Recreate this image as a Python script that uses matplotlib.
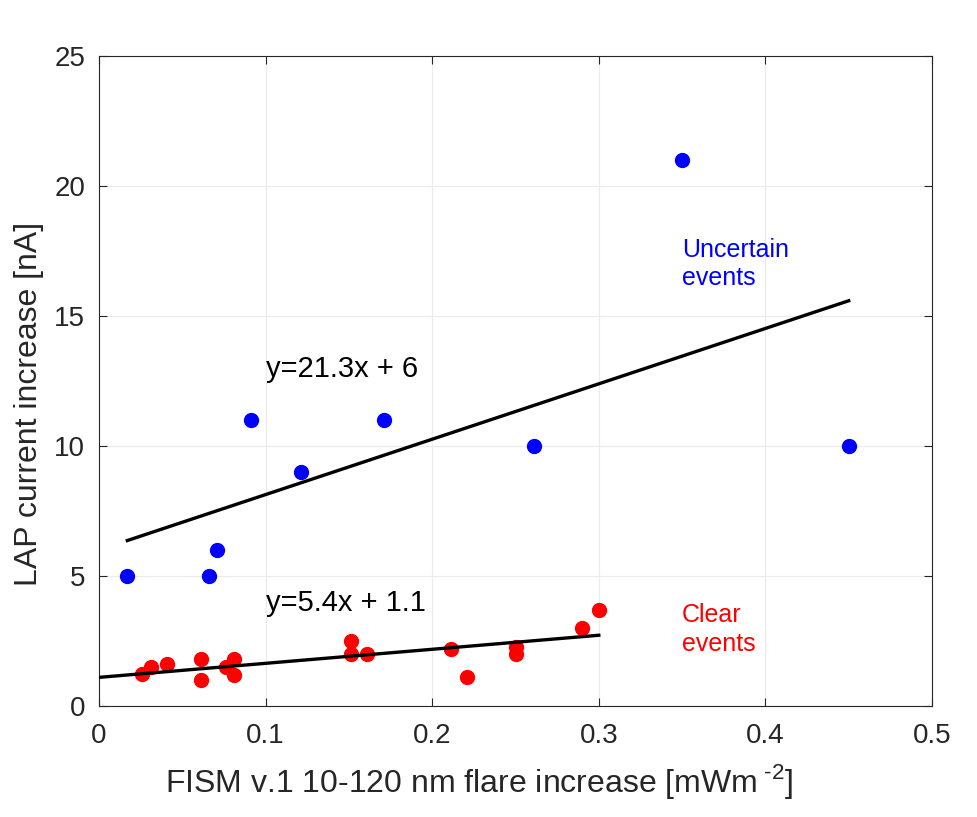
import matplotlib.pyplot as plt
import numpy as np

plt.rcParams['font.family'] = ['Liberation Sans', 'DejaVu Sans']
plt.rcParams['mathtext.fontset'] = 'custom'
plt.rcParams['mathtext.rm'] = 'Liberation Sans'

# uncertain events
x_unc = [0.017, 0.066, 0.071, 0.091, 0.121, 0.171, 0.261, 0.35, 0.45]
y_unc = [5, 5, 6, 11, 9, 11, 10, 21, 10]

# clear events
x_clr = [0.026, 0.031, 0.041, 0.061, 0.061, 0.076, 0.081, 0.081, 0.151,
         0.151, 0.161, 0.211, 0.221, 0.25, 0.25, 0.29, 0.30]
y_clr = [1.23, 1.5, 1.6, 1.8, 1.0, 1.5, 1.8, 1.2, 2.5,
         2.0, 2.0, 2.2, 1.1, 2.25, 2.0, 3.0, 3.7]

fit_unc = (21.3, 6.0)
fit_clr = (5.4, 1.1)

fig = plt.figure(figsize=(9.78, 8.17), dpi=100)
ax = fig.add_axes([0.1012, 0.1359, 0.8518, 0.7956])

ax.plot(x_unc, y_unc, 'o', color='#0000ff', markersize=10, zorder=3)
ax.plot(x_clr, y_clr, 'o', color='#ff0000', markersize=10, zorder=3)

xu = np.array([min(x_unc), max(x_unc)])
ax.plot(xu, fit_unc[0] * xu + fit_unc[1], color='black', lw=2.4, zorder=4)
xc = np.array([0, max(x_clr)])
ax.plot(xc, fit_clr[0] * xc + fit_clr[1], color='black', lw=2.4, zorder=4)

ax.text(0.1, 12.96, 'y=21.3x + 6', fontsize=21, va='center', ha='left')
ax.text(0.1, 3.96, 'y=5.4x + 1.1', fontsize=21, va='center', ha='left')
ax.text(0.35, 17.0, 'Uncertain\nevents', fontsize=18, color='#0000ff',
        va='center', ha='left', linespacing=1.25)
ax.text(0.35, 2.95, 'Clear\nevents', fontsize=18, color='#ff0000',
        va='center', ha='left', linespacing=1.25)

ax.set_xlim(0, 0.5)
ax.set_ylim(0, 25)
ax.set_xticks([0, 0.1, 0.2, 0.3, 0.4, 0.5])
ax.set_xticklabels(['0', '0.1', '0.2', '0.3', '0.4', '0.5'])
ax.set_yticks([0, 5, 10, 15, 20, 25])
ax.grid(True, color='#ebebeb', lw=0.8)
ax.set_axisbelow(True)
ax.tick_params(direction='in', labelsize=20, length=6, width=0.8,
               top=True, right=True, colors='#262626')
ax.tick_params(axis='x', pad=12)
ax.tick_params(axis='y', pad=10)
for s in ax.spines.values():
    s.set_color('#262626')
    s.set_linewidth(0.8)

ax.set_xlabel('FISM v.1 10-120 nm flare increase [mWm$^{\\text{ -2}}$]',
              fontsize=23, color='#262626')
ax.set_ylabel('LAP current increase [nA]', fontsize=23, color='#262626')
ax.xaxis.set_label_coords(0.456, -0.086)
ax.yaxis.set_label_coords(-0.066, 0.465)

fig.savefig('out.png', dpi=100)
